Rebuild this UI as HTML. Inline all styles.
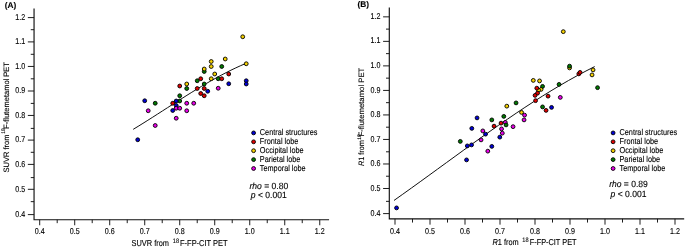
<!DOCTYPE html>
<html lang="en">
<head>
<meta charset="utf-8">
<title>Figure</title>
<style>
html,body{margin:0;padding:0;background:#fff;}
body{width:685px;height:247px;overflow:hidden;}
svg{display:block;font-family:"Liberation Sans", sans-serif;}
text{text-rendering:geometricPrecision;}
</style>
</head>
<body>
<svg width="685" height="247" viewBox="0 0 685 247">
<rect width="685" height="247" fill="#fff"/>
<g>
<path d="M34.05,9.0 V219.75 H328.5" fill="none" stroke="#111" stroke-width="1.15" stroke-linecap="square"/>
<path d="M39.70,219.75 v5.5 M34.05,214.60 h-6.2 M57.20,219.75 v3.4 M34.05,201.65 h-3.3 M74.71,219.75 v5.5 M34.05,189.30 h-6.2 M92.21,219.75 v3.4 M34.05,177.60 h-3.3 M109.71,219.75 v5.5 M34.05,164.40 h-6.2 M127.22,219.75 v3.4 M34.05,152.30 h-3.3 M144.72,219.75 v5.5 M34.05,140.10 h-6.2 M162.22,219.75 v3.4 M34.05,128.40 h-3.3 M179.72,219.75 v5.5 M34.05,115.45 h-6.2 M197.23,219.75 v3.4 M34.05,103.40 h-3.3 M214.73,219.75 v5.5 M34.05,91.00 h-6.2 M232.23,219.75 v3.4 M34.05,78.80 h-3.3 M249.74,219.75 v5.5 M34.05,66.45 h-6.2 M267.24,219.75 v3.4 M34.05,54.30 h-3.3 M284.74,219.75 v5.5 M34.05,41.90 h-6.2 M302.24,219.75 v3.4 M34.05,29.70 h-3.3 M319.75,219.75 v5.5 M34.05,17.60 h-6.2" fill="none" stroke="#111" stroke-width="0.95"/>
<g fill="#000" stroke="#000" stroke-width="0.12">
<text transform="translate(39.70,234.20) scale(0.84,1)" font-size="8.5" text-anchor="middle">0.4</text>
<text transform="translate(25.20,216.90) scale(0.84,1)" font-size="8.5" text-anchor="end">0.4</text>
<text transform="translate(74.71,234.20) scale(0.84,1)" font-size="8.5" text-anchor="middle">0.5</text>
<text transform="translate(25.20,191.60) scale(0.84,1)" font-size="8.5" text-anchor="end">0.5</text>
<text transform="translate(109.71,234.20) scale(0.84,1)" font-size="8.5" text-anchor="middle">0.6</text>
<text transform="translate(25.20,166.70) scale(0.84,1)" font-size="8.5" text-anchor="end">0.6</text>
<text transform="translate(144.72,234.20) scale(0.84,1)" font-size="8.5" text-anchor="middle">0.7</text>
<text transform="translate(25.20,142.40) scale(0.84,1)" font-size="8.5" text-anchor="end">0.7</text>
<text transform="translate(179.72,234.20) scale(0.84,1)" font-size="8.5" text-anchor="middle">0.8</text>
<text transform="translate(25.20,117.75) scale(0.84,1)" font-size="8.5" text-anchor="end">0.8</text>
<text transform="translate(214.73,234.20) scale(0.84,1)" font-size="8.5" text-anchor="middle">0.9</text>
<text transform="translate(25.20,93.30) scale(0.84,1)" font-size="8.5" text-anchor="end">0.9</text>
<text transform="translate(249.74,234.20) scale(0.84,1)" font-size="8.5" text-anchor="middle">1.0</text>
<text transform="translate(25.20,68.75) scale(0.84,1)" font-size="8.5" text-anchor="end">1.0</text>
<text transform="translate(284.74,234.20) scale(0.84,1)" font-size="8.5" text-anchor="middle">1.1</text>
<text transform="translate(25.20,44.20) scale(0.84,1)" font-size="8.5" text-anchor="end">1.1</text>
<text transform="translate(319.75,234.20) scale(0.84,1)" font-size="8.5" text-anchor="middle">1.2</text>
<text transform="translate(25.20,19.90) scale(0.84,1)" font-size="8.5" text-anchor="end">1.2</text>
<text transform="translate(131.60,245.70)" font-size="8.6" textLength="37.35" lengthAdjust="spacingAndGlyphs">SUVR from</text>
<text transform="translate(172.80,242.80)" font-size="6.5" textLength="6.25" lengthAdjust="spacingAndGlyphs">18</text>
<text transform="translate(180.00,245.70)" font-size="8.6" textLength="47.65" lengthAdjust="spacingAndGlyphs">F-FP-CIT PET</text>
<text transform="translate(8.60,172.40) rotate(-90)" font-size="7.8" textLength="37.95" lengthAdjust="spacingAndGlyphs">SUVR from</text>
<text transform="translate(4.50,133.70) rotate(-90)" font-size="5.2" textLength="5.65" lengthAdjust="spacingAndGlyphs">18</text>
<text transform="translate(8.60,128.80) rotate(-90)" font-size="7.8" textLength="66.75" lengthAdjust="spacingAndGlyphs">F-flutemetamol PET</text>
<text transform="translate(4.70,7.90) scale(1.0,1)" font-size="8.3" font-weight="bold">(A)</text>
<text transform="translate(259.80,135.40) scale(0.85,1)" font-size="8.6">Central structures</text>
<text transform="translate(259.80,144.30) scale(0.85,1)" font-size="8.6">Frontal lobe</text>
<text transform="translate(259.80,153.20) scale(0.85,1)" font-size="8.6">Occipital lobe</text>
<text transform="translate(259.80,162.10) scale(0.85,1)" font-size="8.6">Parietal lobe</text>
<text transform="translate(259.80,171.00) scale(0.85,1)" font-size="8.6">Temporal lobe</text>
<text transform="translate(268.80,188.50) scale(0.95,1)" font-size="9.0" text-anchor="middle"><tspan font-style="italic">rho</tspan> = 0.80</text>
<text transform="translate(268.80,197.60) scale(0.95,1)" font-size="9.0" text-anchor="middle"><tspan font-style="italic">p</tspan> &lt; 0.001</text>
</g>
<path d="M133.20,129.35 L138.09,126.36 L142.97,123.33 L147.86,120.26 L152.75,117.16 L157.63,114.04 L162.52,110.90 L167.41,107.75 L172.30,104.61 L177.18,101.49 L182.07,98.38 L186.96,95.29 L191.84,92.25 L196.73,89.25 L201.62,86.30 L206.50,83.42 L211.39,80.60 L216.28,77.86 L221.17,75.21 L226.05,72.66 L230.94,70.20 L235.83,67.86 L240.71,65.64 L245.60,63.55" fill="none" stroke="#111" stroke-width="1.0"/>
<circle cx="155.22" cy="103.25" r="1.92" fill="#007a00" stroke="#000" stroke-width="0.9"/>
<circle cx="179.72" cy="101.00" r="1.92" fill="#007a00" stroke="#000" stroke-width="0.9"/>
<circle cx="179.72" cy="95.75" r="1.92" fill="#007a00" stroke="#000" stroke-width="0.9"/>
<circle cx="186.73" cy="88.50" r="1.92" fill="#007a00" stroke="#000" stroke-width="0.9"/>
<circle cx="204.23" cy="84.00" r="1.92" fill="#007a00" stroke="#000" stroke-width="0.9"/>
<circle cx="197.23" cy="80.75" r="1.92" fill="#007a00" stroke="#000" stroke-width="0.9"/>
<circle cx="204.23" cy="71.50" r="1.92" fill="#007a00" stroke="#000" stroke-width="0.9"/>
<circle cx="218.23" cy="78.75" r="1.92" fill="#007a00" stroke="#000" stroke-width="0.9"/>
<circle cx="221.73" cy="66.50" r="1.92" fill="#007a00" stroke="#000" stroke-width="0.9"/>
<circle cx="186.73" cy="84.00" r="1.92" fill="#f4d000" stroke="#000" stroke-width="0.9"/>
<circle cx="242.73" cy="36.75" r="1.92" fill="#f4d000" stroke="#000" stroke-width="0.9"/>
<circle cx="225.23" cy="59.00" r="1.92" fill="#f4d000" stroke="#000" stroke-width="0.9"/>
<circle cx="246.24" cy="63.75" r="1.92" fill="#f4d000" stroke="#000" stroke-width="0.9"/>
<circle cx="211.23" cy="61.50" r="1.92" fill="#f4d000" stroke="#000" stroke-width="0.9"/>
<circle cx="211.23" cy="66.50" r="1.92" fill="#f4d000" stroke="#000" stroke-width="0.9"/>
<circle cx="204.23" cy="69.00" r="1.92" fill="#f4d000" stroke="#000" stroke-width="0.9"/>
<circle cx="214.73" cy="74.00" r="1.92" fill="#f4d000" stroke="#000" stroke-width="0.9"/>
<circle cx="211.23" cy="78.75" r="1.92" fill="#f4d000" stroke="#000" stroke-width="0.9"/>
<circle cx="172.72" cy="103.25" r="1.92" fill="#e00000" stroke="#000" stroke-width="0.9"/>
<circle cx="179.72" cy="86.00" r="1.92" fill="#e00000" stroke="#000" stroke-width="0.9"/>
<circle cx="197.23" cy="88.50" r="1.92" fill="#e00000" stroke="#000" stroke-width="0.9"/>
<circle cx="200.73" cy="93.50" r="1.92" fill="#e00000" stroke="#000" stroke-width="0.9"/>
<circle cx="204.23" cy="88.50" r="1.92" fill="#e00000" stroke="#000" stroke-width="0.9"/>
<circle cx="204.23" cy="95.75" r="1.92" fill="#e00000" stroke="#000" stroke-width="0.9"/>
<circle cx="200.73" cy="78.75" r="1.92" fill="#e00000" stroke="#000" stroke-width="0.9"/>
<circle cx="221.73" cy="78.75" r="1.92" fill="#e00000" stroke="#000" stroke-width="0.9"/>
<circle cx="228.73" cy="74.00" r="1.92" fill="#e00000" stroke="#000" stroke-width="0.9"/>
<circle cx="137.72" cy="139.75" r="1.92" fill="#0000d8" stroke="#000" stroke-width="0.9"/>
<circle cx="144.72" cy="100.75" r="1.92" fill="#0000d8" stroke="#000" stroke-width="0.9"/>
<circle cx="172.72" cy="110.50" r="1.92" fill="#0000d8" stroke="#000" stroke-width="0.9"/>
<circle cx="176.22" cy="101.00" r="1.92" fill="#0000d8" stroke="#000" stroke-width="0.9"/>
<circle cx="176.22" cy="105.50" r="1.92" fill="#0000d8" stroke="#000" stroke-width="0.9"/>
<circle cx="207.73" cy="91.25" r="1.92" fill="#0000d8" stroke="#000" stroke-width="0.9"/>
<circle cx="228.73" cy="83.75" r="1.92" fill="#0000d8" stroke="#000" stroke-width="0.9"/>
<circle cx="246.24" cy="80.75" r="1.92" fill="#0000d8" stroke="#000" stroke-width="0.9"/>
<circle cx="246.24" cy="84.00" r="1.92" fill="#0000d8" stroke="#000" stroke-width="0.9"/>
<circle cx="155.22" cy="125.50" r="1.92" fill="#e800e8" stroke="#000" stroke-width="0.9"/>
<circle cx="148.22" cy="110.75" r="1.92" fill="#e800e8" stroke="#000" stroke-width="0.9"/>
<circle cx="176.22" cy="118.25" r="1.92" fill="#e800e8" stroke="#000" stroke-width="0.9"/>
<circle cx="176.22" cy="108.25" r="1.92" fill="#e800e8" stroke="#000" stroke-width="0.9"/>
<circle cx="179.72" cy="108.25" r="1.92" fill="#e800e8" stroke="#000" stroke-width="0.9"/>
<circle cx="186.73" cy="110.75" r="1.92" fill="#e800e8" stroke="#000" stroke-width="0.9"/>
<circle cx="186.73" cy="103.25" r="1.92" fill="#e800e8" stroke="#000" stroke-width="0.9"/>
<circle cx="193.73" cy="103.25" r="1.92" fill="#e800e8" stroke="#000" stroke-width="0.9"/>
<circle cx="218.23" cy="88.25" r="1.92" fill="#e800e8" stroke="#000" stroke-width="0.9"/>
<circle cx="253.60" cy="132.90" r="1.92" fill="#0000d8" stroke="#000" stroke-width="0.9"/>
<circle cx="253.60" cy="141.80" r="1.92" fill="#e00000" stroke="#000" stroke-width="0.9"/>
<circle cx="253.60" cy="150.70" r="1.92" fill="#f4d000" stroke="#000" stroke-width="0.9"/>
<circle cx="253.60" cy="159.60" r="1.92" fill="#007a00" stroke="#000" stroke-width="0.9"/>
<circle cx="253.60" cy="168.50" r="1.92" fill="#e800e8" stroke="#000" stroke-width="0.9"/>
</g>
<g>
<path d="M389.3,8.0 V218.85 H683.6" fill="none" stroke="#111" stroke-width="1.15" stroke-linecap="square"/>
<path d="M395.00,218.85 v5.8 M389.3,213.60 h-6.2 M412.50,218.85 v3.6999999999999997 M389.3,201.35 h-3.3 M430.00,218.85 v5.8 M389.3,188.49 h-6.2 M447.50,218.85 v3.6999999999999997 M389.3,176.23 h-3.3 M465.00,218.85 v5.8 M389.3,163.97 h-6.2 M482.50,218.85 v3.6999999999999997 M389.3,151.80 h-3.3 M500.00,218.85 v5.8 M389.3,139.45 h-6.2 M517.50,218.85 v3.6999999999999997 M389.3,127.19 h-3.3 M535.00,218.85 v5.8 M389.3,114.93 h-6.2 M552.50,218.85 v3.6999999999999997 M389.3,102.67 h-3.3 M570.00,218.85 v5.8 M389.3,90.41 h-6.2 M587.50,218.85 v3.6999999999999997 M389.3,78.15 h-3.3 M605.00,218.85 v5.8 M389.3,65.89 h-6.2 M622.50,218.85 v3.6999999999999997 M389.3,53.63 h-3.3 M640.00,218.85 v5.8 M389.3,41.37 h-6.2 M657.50,218.85 v3.6999999999999997 M389.3,29.11 h-3.3 M675.00,218.85 v5.8 M389.3,16.85 h-6.2" fill="none" stroke="#111" stroke-width="0.95"/>
<g fill="#000" stroke="#000" stroke-width="0.12">
<text transform="translate(395.00,233.90) scale(0.84,1)" font-size="8.5" text-anchor="middle">0.4</text>
<text transform="translate(380.50,215.70) scale(0.84,1)" font-size="8.5" text-anchor="end">0.4</text>
<text transform="translate(430.00,233.90) scale(0.84,1)" font-size="8.5" text-anchor="middle">0.5</text>
<text transform="translate(380.50,190.59) scale(0.84,1)" font-size="8.5" text-anchor="end">0.5</text>
<text transform="translate(465.00,233.90) scale(0.84,1)" font-size="8.5" text-anchor="middle">0.6</text>
<text transform="translate(380.50,166.07) scale(0.84,1)" font-size="8.5" text-anchor="end">0.6</text>
<text transform="translate(500.00,233.90) scale(0.84,1)" font-size="8.5" text-anchor="middle">0.7</text>
<text transform="translate(380.50,141.55) scale(0.84,1)" font-size="8.5" text-anchor="end">0.7</text>
<text transform="translate(535.00,233.90) scale(0.84,1)" font-size="8.5" text-anchor="middle">0.8</text>
<text transform="translate(380.50,117.03) scale(0.84,1)" font-size="8.5" text-anchor="end">0.8</text>
<text transform="translate(570.00,233.90) scale(0.84,1)" font-size="8.5" text-anchor="middle">0.9</text>
<text transform="translate(380.50,92.51) scale(0.84,1)" font-size="8.5" text-anchor="end">0.9</text>
<text transform="translate(605.00,233.90) scale(0.84,1)" font-size="8.5" text-anchor="middle">1.0</text>
<text transform="translate(380.50,67.99) scale(0.84,1)" font-size="8.5" text-anchor="end">1.0</text>
<text transform="translate(640.00,233.90) scale(0.84,1)" font-size="8.5" text-anchor="middle">1.1</text>
<text transform="translate(380.50,43.47) scale(0.84,1)" font-size="8.5" text-anchor="end">1.1</text>
<text transform="translate(675.00,233.90) scale(0.84,1)" font-size="8.5" text-anchor="middle">1.2</text>
<text transform="translate(380.50,18.95) scale(0.84,1)" font-size="8.5" text-anchor="end">1.2</text>
<text transform="translate(492.50,244.60)" font-size="8.6" textLength="26.15" lengthAdjust="spacingAndGlyphs"><tspan font-style="italic">R</tspan>1 from</text>
<text transform="translate(522.30,241.60)" font-size="6.5" textLength="6.25" lengthAdjust="spacingAndGlyphs">18</text>
<text transform="translate(529.70,244.60)" font-size="8.6" textLength="46.85" lengthAdjust="spacingAndGlyphs">F-FP-CIT PET</text>
<text transform="translate(364.10,166.10) rotate(-90)" font-size="7.8" textLength="26.05" lengthAdjust="spacingAndGlyphs"><tspan font-style="italic">R</tspan>1 from</text>
<text transform="translate(360.50,139.70) rotate(-90)" font-size="5.0" textLength="5.45" lengthAdjust="spacingAndGlyphs">18</text>
<text transform="translate(364.10,136.50) rotate(-90)" font-size="7.8" textLength="68.85" lengthAdjust="spacingAndGlyphs">F-flutemetamol PET</text>
<text transform="translate(357.60,7.20) scale(1.0,1)" font-size="8.3" font-weight="bold">(B)</text>
<text transform="translate(619.50,135.40) scale(0.85,1)" font-size="8.6">Central structures</text>
<text transform="translate(619.50,144.30) scale(0.85,1)" font-size="8.6">Frontal lobe</text>
<text transform="translate(619.50,153.20) scale(0.85,1)" font-size="8.6">Occipital lobe</text>
<text transform="translate(619.50,162.10) scale(0.85,1)" font-size="8.6">Parietal lobe</text>
<text transform="translate(619.50,171.00) scale(0.85,1)" font-size="8.6">Temporal lobe</text>
<text transform="translate(628.50,187.20) scale(0.95,1)" font-size="9.0" text-anchor="middle"><tspan font-style="italic">rho</tspan> = 0.89</text>
<text transform="translate(628.50,196.60) scale(0.95,1)" font-size="9.0" text-anchor="middle"><tspan font-style="italic">p</tspan> &lt; 0.001</text>
</g>
<path d="M394.00,200.44 L402.73,194.25 L411.45,188.01 L420.18,181.72 L428.90,175.40 L437.63,169.05 L446.36,162.70 L455.08,156.36 L463.81,150.03 L472.53,143.74 L481.26,137.49 L489.99,131.31 L498.71,125.19 L507.44,119.16 L516.17,113.23 L524.89,107.42 L533.62,101.73 L542.34,96.18 L551.07,90.79 L559.80,85.56 L568.52,80.51 L577.25,75.65 L585.97,71.00 L594.70,66.57" fill="none" stroke="#111" stroke-width="1.0"/>
<circle cx="505.30" cy="122.40" r="1.92" fill="#e800e8" stroke="#000" stroke-width="0.9"/>
<circle cx="569.55" cy="67.90" r="1.92" fill="#f4d000" stroke="#000" stroke-width="0.9"/>
<circle cx="460.30" cy="141.40" r="1.92" fill="#007a00" stroke="#000" stroke-width="0.9"/>
<circle cx="491.80" cy="119.90" r="1.92" fill="#007a00" stroke="#000" stroke-width="0.9"/>
<circle cx="503.80" cy="116.40" r="1.92" fill="#007a00" stroke="#000" stroke-width="0.9"/>
<circle cx="506.05" cy="124.90" r="1.92" fill="#007a00" stroke="#000" stroke-width="0.9"/>
<circle cx="516.05" cy="102.90" r="1.92" fill="#007a00" stroke="#000" stroke-width="0.9"/>
<circle cx="569.55" cy="66.15" r="1.92" fill="#007a00" stroke="#000" stroke-width="0.9"/>
<circle cx="597.55" cy="87.65" r="1.92" fill="#007a00" stroke="#000" stroke-width="0.9"/>
<circle cx="559.05" cy="84.40" r="1.92" fill="#007a00" stroke="#000" stroke-width="0.9"/>
<circle cx="542.55" cy="86.40" r="1.92" fill="#007a00" stroke="#000" stroke-width="0.9"/>
<circle cx="542.55" cy="106.90" r="1.92" fill="#007a00" stroke="#000" stroke-width="0.9"/>
<circle cx="563.30" cy="31.65" r="1.92" fill="#f4d000" stroke="#000" stroke-width="0.9"/>
<circle cx="593.05" cy="69.90" r="1.92" fill="#f4d000" stroke="#000" stroke-width="0.9"/>
<circle cx="592.05" cy="74.90" r="1.92" fill="#f4d000" stroke="#000" stroke-width="0.9"/>
<circle cx="533.30" cy="80.40" r="1.92" fill="#f4d000" stroke="#000" stroke-width="0.9"/>
<circle cx="539.55" cy="80.90" r="1.92" fill="#f4d000" stroke="#000" stroke-width="0.9"/>
<circle cx="541.05" cy="89.40" r="1.92" fill="#f4d000" stroke="#000" stroke-width="0.9"/>
<circle cx="538.55" cy="90.15" r="1.92" fill="#f4d000" stroke="#000" stroke-width="0.9"/>
<circle cx="506.80" cy="106.15" r="1.92" fill="#f4d000" stroke="#000" stroke-width="0.9"/>
<circle cx="521.55" cy="112.40" r="1.92" fill="#f4d000" stroke="#000" stroke-width="0.9"/>
<circle cx="494.05" cy="126.15" r="1.92" fill="#e00000" stroke="#000" stroke-width="0.9"/>
<circle cx="501.05" cy="123.15" r="1.92" fill="#e00000" stroke="#000" stroke-width="0.9"/>
<circle cx="578.80" cy="73.90" r="1.92" fill="#e00000" stroke="#000" stroke-width="0.9"/>
<circle cx="580.05" cy="72.40" r="1.92" fill="#e00000" stroke="#000" stroke-width="0.9"/>
<circle cx="536.80" cy="88.15" r="1.92" fill="#e00000" stroke="#000" stroke-width="0.9"/>
<circle cx="537.55" cy="93.15" r="1.92" fill="#e00000" stroke="#000" stroke-width="0.9"/>
<circle cx="535.05" cy="95.40" r="1.92" fill="#e00000" stroke="#000" stroke-width="0.9"/>
<circle cx="548.05" cy="96.15" r="1.92" fill="#e00000" stroke="#000" stroke-width="0.9"/>
<circle cx="535.55" cy="100.65" r="1.92" fill="#e00000" stroke="#000" stroke-width="0.9"/>
<circle cx="546.05" cy="110.40" r="1.92" fill="#e00000" stroke="#000" stroke-width="0.9"/>
<circle cx="396.55" cy="207.90" r="1.92" fill="#0000d8" stroke="#000" stroke-width="0.9"/>
<circle cx="467.30" cy="145.90" r="1.92" fill="#0000d8" stroke="#000" stroke-width="0.9"/>
<circle cx="471.55" cy="144.90" r="1.92" fill="#0000d8" stroke="#000" stroke-width="0.9"/>
<circle cx="466.55" cy="159.90" r="1.92" fill="#0000d8" stroke="#000" stroke-width="0.9"/>
<circle cx="485.55" cy="134.15" r="1.92" fill="#0000d8" stroke="#000" stroke-width="0.9"/>
<circle cx="471.80" cy="128.40" r="1.92" fill="#0000d8" stroke="#000" stroke-width="0.9"/>
<circle cx="477.05" cy="117.90" r="1.92" fill="#0000d8" stroke="#000" stroke-width="0.9"/>
<circle cx="491.80" cy="146.40" r="1.92" fill="#0000d8" stroke="#000" stroke-width="0.9"/>
<circle cx="499.80" cy="137.15" r="1.92" fill="#0000d8" stroke="#000" stroke-width="0.9"/>
<circle cx="551.55" cy="107.40" r="1.92" fill="#0000d8" stroke="#000" stroke-width="0.9"/>
<circle cx="481.05" cy="139.90" r="1.92" fill="#e800e8" stroke="#000" stroke-width="0.9"/>
<circle cx="482.80" cy="130.90" r="1.92" fill="#e800e8" stroke="#000" stroke-width="0.9"/>
<circle cx="487.80" cy="151.15" r="1.92" fill="#e800e8" stroke="#000" stroke-width="0.9"/>
<circle cx="502.30" cy="133.15" r="1.92" fill="#e800e8" stroke="#000" stroke-width="0.9"/>
<circle cx="501.55" cy="128.90" r="1.92" fill="#e800e8" stroke="#000" stroke-width="0.9"/>
<circle cx="513.05" cy="126.65" r="1.92" fill="#e800e8" stroke="#000" stroke-width="0.9"/>
<circle cx="524.55" cy="115.15" r="1.92" fill="#e800e8" stroke="#000" stroke-width="0.9"/>
<circle cx="524.05" cy="119.90" r="1.92" fill="#e800e8" stroke="#000" stroke-width="0.9"/>
<circle cx="560.30" cy="97.40" r="1.92" fill="#e800e8" stroke="#000" stroke-width="0.9"/>
<circle cx="613.10" cy="132.90" r="1.92" fill="#0000d8" stroke="#000" stroke-width="0.9"/>
<circle cx="613.10" cy="141.80" r="1.92" fill="#e00000" stroke="#000" stroke-width="0.9"/>
<circle cx="613.10" cy="150.70" r="1.92" fill="#f4d000" stroke="#000" stroke-width="0.9"/>
<circle cx="613.10" cy="159.60" r="1.92" fill="#007a00" stroke="#000" stroke-width="0.9"/>
<circle cx="613.10" cy="168.50" r="1.92" fill="#e800e8" stroke="#000" stroke-width="0.9"/>
</g>
</svg>
</body>
</html>
